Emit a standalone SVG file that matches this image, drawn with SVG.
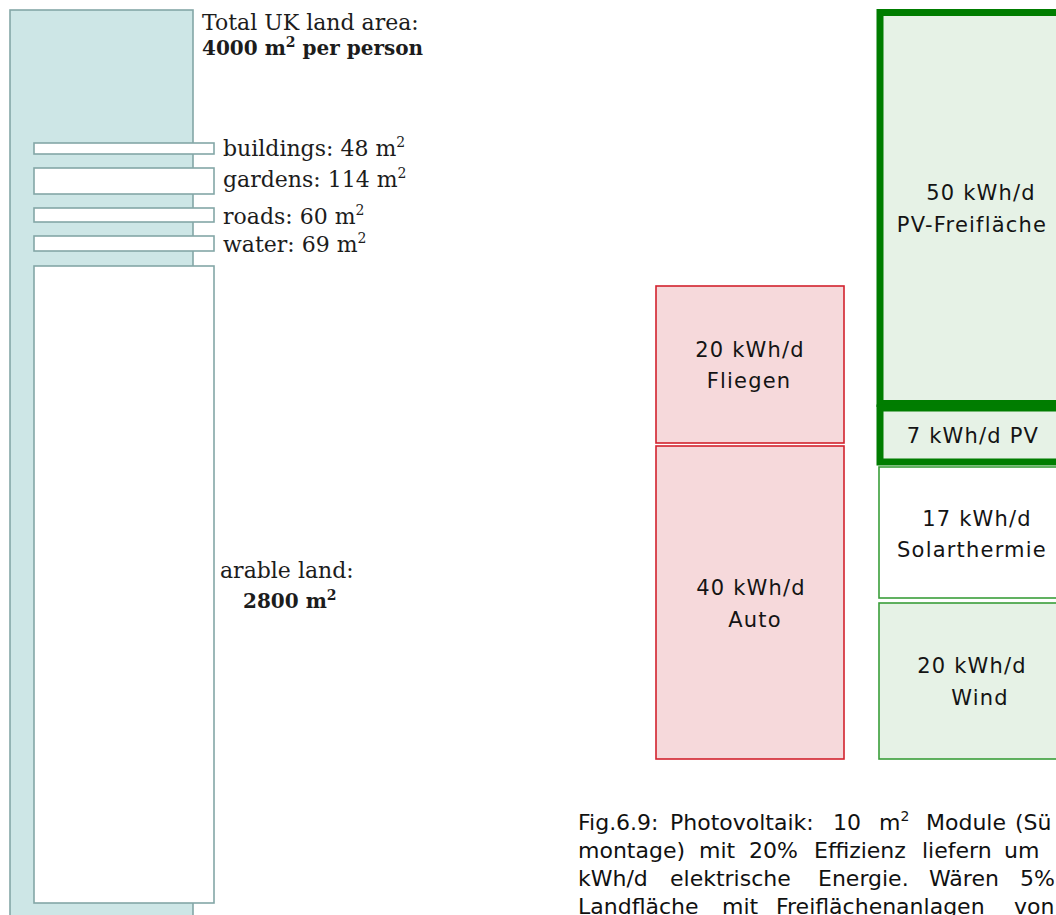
<svg xmlns="http://www.w3.org/2000/svg" width="1056" height="915" viewBox="0 0 1056 915">
<style>
.bar{fill:#cde6e6;stroke:#84a7a7;stroke-width:1.6}
.plot{fill:#ffffff;stroke:#84a7a7;stroke-width:1.6}
.lt{font-family:"DejaVu Serif","Liberation Serif",serif;font-size:22px;fill:#1c1c1c}
.b{font-weight:bold;font-size:20px}
.sup{font-size:14px}
.red{fill:#f6d9db;stroke:#d3222e;stroke-width:1.6}
.gthick{fill:#e6f2e6;stroke:#007d00;stroke-width:7}
.gthin{fill:#e6f2e6;stroke:#3a9e3a;stroke-width:1.6}
.gwhite{fill:#ffffff;stroke:#3a9e3a;stroke-width:1.6}
.bt{font-family:"DejaVu Sans","Liberation Sans",sans-serif;font-size:21px;fill:#141414;text-anchor:middle;letter-spacing:1.2px}
.cap{font-family:"DejaVu Sans","Liberation Sans",sans-serif;font-size:22px;fill:#111}
.csup{font-size:14px}
</style>
<rect width="1056" height="915" fill="#ffffff"/>

<g id="uk-land">
  <rect class="bar" x="10" y="10" width="183" height="930"/>
  <text class="lt" x="202" y="30">Total UK land area:</text>
  <text class="lt b" x="202" y="55">4000 m<tspan class="sup" dy="-8">2</tspan><tspan dy="8"> per person</tspan></text>
</g>
<g id="buildings">
  <rect class="plot" x="34" y="143" width="180" height="11"/>
  <text class="lt" x="223" y="156">buildings: 48 m<tspan class="sup" dy="-9">2</tspan></text>
</g>
<g id="gardens">
  <rect class="plot" x="34" y="168" width="180" height="26"/>
  <text class="lt" x="223" y="187">gardens: 114 m<tspan class="sup" dy="-9">2</tspan></text>
</g>
<g id="roads">
  <rect class="plot" x="34" y="208" width="180" height="14"/>
  <text class="lt" x="223" y="224">roads: 60 m<tspan class="sup" dy="-9">2</tspan></text>
</g>
<g id="water">
  <rect class="plot" x="34" y="236" width="180" height="15"/>
  <text class="lt" x="223" y="252">water: 69 m<tspan class="sup" dy="-9">2</tspan></text>
</g>
<g id="arable">
  <rect class="plot" x="34" y="266" width="180" height="637"/>
  <text class="lt" x="220" y="578">arable land:</text>
  <text class="lt b" x="243" y="608">2800 m<tspan class="sup" dy="-8">2</tspan></text>
</g>

<g id="fliegen">
  <rect class="red" x="656" y="286" width="188" height="157"/>
  <text class="bt" x="750" y="357">20 kWh/d</text>
  <text class="bt" x="749" y="388">Fliegen</text>
</g>
<g id="auto">
  <rect class="red" x="656" y="446" width="188" height="313"/>
  <text class="bt" x="751" y="595">40 kWh/d</text>
  <text class="bt" x="755" y="627">Auto</text>
</g>
<g id="pv-freiflaeche">
  <rect class="gthick" x="880" y="12.5" width="200" height="391"/>
  <text class="bt" x="981" y="200">50 kWh/d</text>
  <text class="bt" x="972" y="232">PV-Freifläche</text>
</g>
<g id="pv">
  <rect class="gthick" x="880" y="408" width="200" height="54"/>
  <text class="bt" x="973" y="443">7 kWh/d PV</text>
</g>
<g id="solarthermie">
  <rect class="gwhite" x="879" y="467" width="200" height="131"/>
  <text class="bt" x="977" y="526">17 kWh/d</text>
  <text class="bt" x="972" y="557">Solarthermie</text>
</g>
<g id="wind">
  <rect class="gthin" x="879" y="603" width="200" height="156"/>
  <text class="bt" x="972" y="673">20 kWh/d</text>
  <text class="bt" x="980" y="705">Wind</text>
</g>

<g id="connectors"></g>

<g id="caption">
  <text class="cap" y="830"><tspan x="578">Fig.6.9:</tspan><tspan x="670">Photovoltaik:</tspan><tspan x="833">10</tspan><tspan x="879">m</tspan><tspan class="csup" dy="-9">2</tspan><tspan x="926" dy="9">Module</tspan><tspan x="1015">(Sü</tspan></text>
  <text class="cap" y="858"><tspan x="578">montage)</tspan><tspan x="699">mit</tspan><tspan x="749">20%</tspan><tspan x="814">Effizienz</tspan><tspan x="922">liefern</tspan><tspan x="1004">um</tspan></text>
  <text class="cap" y="886"><tspan x="578">kWh/d</tspan><tspan x="670">elektrische</tspan><tspan x="818">Energie.</tspan><tspan x="929">Wären</tspan><tspan x="1020">5%</tspan></text>
  <text class="cap" y="914"><tspan x="578">Landfläche</tspan><tspan x="722">mit</tspan><tspan x="776">Freiflächenanlagen</tspan><tspan x="1014">von</tspan></text>
</g>
</svg>
